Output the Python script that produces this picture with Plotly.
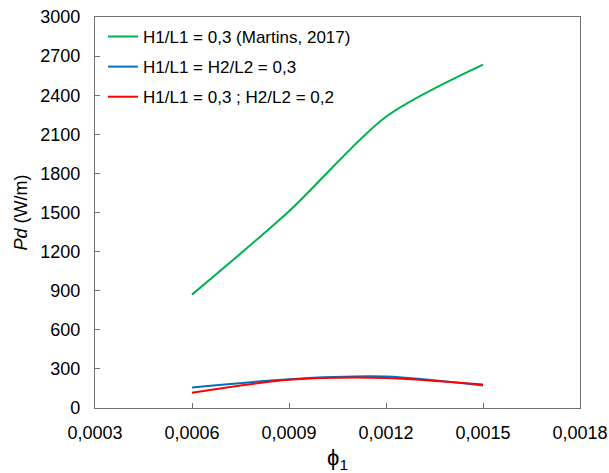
import plotly.graph_objects as go

phi = [0.0006, 0.0009, 0.0012, 0.0015]
pd_martins = [870, 1510, 2235, 2635]
pd_h03 = [157, 221, 241, 172]
pd_h02 = [117, 216, 231, 180]

names = ["H1/L1 = 0,3 (Martins, 2017)", "H1/L1 = H2/L2 = 0,3", "H1/L1 = 0,3 ; H2/L2 = 0,2"]
colors = ["#00B050", "#0070C0", "#FF0000"]

x_ticks = [0.0003, 0.0006, 0.0009, 0.0012, 0.0015, 0.0018]
x_ticklabels = ["0,0003", "0,0006", "0,0009", "0,0012", "0,0015", "0,0018"]
y_ticks = list(range(0, 3001, 300))

fig = go.Figure()
for i, ys in enumerate([pd_martins, pd_h03, pd_h02]):
    fig.add_trace(go.Scatter(
        x=phi, y=ys, mode="lines", name=names[i],
        line=dict(color=colors[i], width=2, shape="spline", smoothing=0.8),
        legendgroup=f"g{i}",
    ))

font = "Liberation Sans, Arial, sans-serif"
axis_common = dict(
    showgrid=False, zeroline=False, showline=True, linecolor="#707070", linewidth=1.3,
    mirror=True, ticks="inside", ticklen=5, tickcolor="#707070", tickwidth=1,
    tickfont=dict(family=font, size=18, color="#000000"),
    automargin=False,
)
fig.update_xaxes(
    range=[0.0003, 0.0018], tickvals=x_ticks, ticktext=x_ticklabels,
    ticklabelstandoff=8,
    title=dict(text="ϕ<sub>1</sub>", font=dict(family=font, size=22, color="#000"), standoff=12),
    **axis_common,
)
fig.update_yaxes(
    range=[0, 3000], tickvals=y_ticks,
    ticklabelstandoff=10,
    title=dict(text="<i>Pd</i> (W/m)", font=dict(family=font, size=18, color="#000"), standoff=7),
    **axis_common,
)
fig.update_layout(
    width=609, height=473,
    margin=dict(l=95, r=29, t=17, b=65),
    paper_bgcolor="white", plot_bgcolor="white",
    font=dict(family=font, size=17, color="#000"),
    legend=dict(
        x=0.0165, y=0.995, xanchor="left", yanchor="top",
        bgcolor="rgba(0,0,0,0)", borderwidth=0,
        font=dict(family=font, size=17, color="#000"),
        tracegroupgap=5, itemwidth=30,
    ),
)
fig.write_html("out.html")
